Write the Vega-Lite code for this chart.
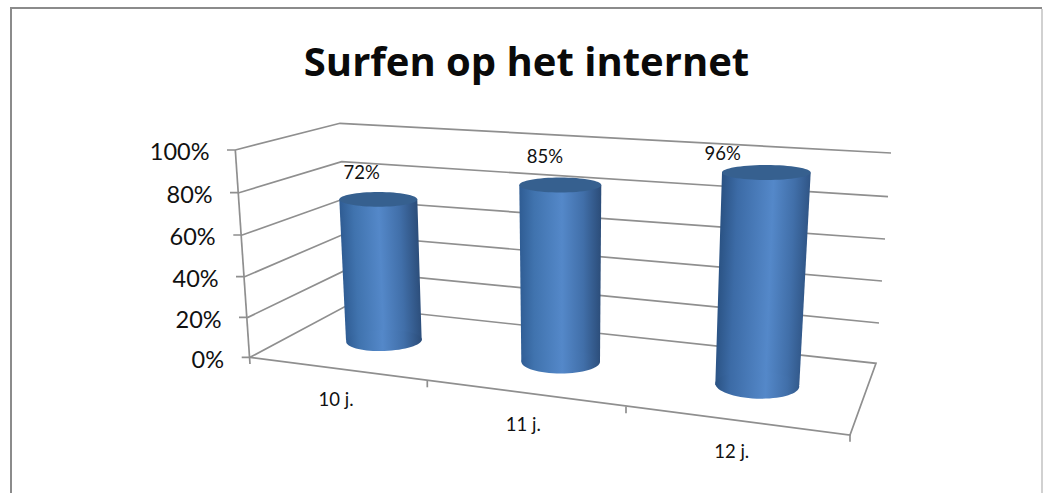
{
  "$schema": "https://vega.github.io/schema/vega-lite/v6.json",
  "width": 1043,
  "height": 493,
  "autosize": {"type": "none"},
  "padding": 0,
  "background": "white",
  "view": {"stroke": null},
  "title": {
    "text": "Surfen op het internet",
    "font": "Open Sans",
    "fontSize": 40,
    "fontWeight": "bold",
    "color": "#0a0a0a",
    "anchor": "middle",
    "dx": 5,
    "offset": -84
  },
  "datasets": {
    "outline": [
      {"edge": "frame", "step": 1, "across": 11, "rise": 493},
      {"edge": "frame", "step": 2, "across": 11, "rise": 8},
      {"edge": "frame", "step": 3, "across": 1042, "rise": 8}
    ],
    "rightEdge": [
      {"edge": "right", "step": 1, "across": 1042, "rise": 9},
      {"edge": "right", "step": 2, "across": 1042, "rise": 493}
    ],
    "chartbox": [
      {"edge": "100%", "step": 1, "across": 227, "rise": 150},
      {"edge": "100%", "step": 2, "across": 235.3, "rise": 150},
      {"edge": "100%", "step": 3, "across": 340, "rise": 123.3},
      {"edge": "100%", "step": 4, "across": 891, "rise": 153},
      {"edge": "80%", "step": 1, "across": 230, "rise": 192.7},
      {"edge": "80%", "step": 2, "across": 239, "rise": 192.7},
      {"edge": "80%", "step": 3, "across": 341.7, "rise": 161.7},
      {"edge": "80%", "step": 4, "across": 888, "rise": 196.7},
      {"edge": "60%", "step": 1, "across": 233.3, "rise": 235},
      {"edge": "60%", "step": 2, "across": 242.3, "rise": 235},
      {"edge": "60%", "step": 3, "across": 342, "rise": 199.5},
      {"edge": "60%", "step": 4, "across": 885, "rise": 239},
      {"edge": "40%", "step": 1, "across": 236, "rise": 276.7},
      {"edge": "40%", "step": 2, "across": 244.7, "rise": 276.7},
      {"edge": "40%", "step": 3, "across": 343, "rise": 234.5},
      {"edge": "40%", "step": 4, "across": 882, "rise": 281},
      {"edge": "20%", "step": 1, "across": 239, "rise": 317.3},
      {"edge": "20%", "step": 2, "across": 248, "rise": 317.3},
      {"edge": "20%", "step": 3, "across": 345, "rise": 270.4},
      {"edge": "20%", "step": 4, "across": 879, "rise": 323},
      {"edge": "floor", "step": 1, "across": 241.7, "rise": 357.3},
      {"edge": "floor", "step": 2, "across": 250, "rise": 357.3},
      {"edge": "floor", "step": 3, "across": 346, "rise": 306},
      {"edge": "floor", "step": 4, "across": 876, "rise": 363.3},
      {"edge": "floor", "step": 5, "across": 850, "rise": 435},
      {"edge": "floor", "step": 6, "across": 250, "rise": 357.3},
      {"edge": "axis", "step": 1, "across": 235.3, "rise": 150},
      {"edge": "axis", "step": 2, "across": 250, "rise": 364},
      {"edge": "tick1", "step": 1, "across": 427.3, "rise": 380.5},
      {"edge": "tick1", "step": 2, "across": 427.3, "rise": 387.3},
      {"edge": "tick2", "step": 1, "across": 626, "rise": 406.5},
      {"edge": "tick2", "step": 2, "across": 626, "rise": 413.3},
      {"edge": "tick3", "step": 1, "across": 850, "rise": 435},
      {"edge": "tick3", "step": 2, "across": 850, "rise": 441.7}
    ],
    "percentLabels": [
      {"share": 1, "across": 209.5, "rise": 152.5},
      {"share": 0.8, "across": 212.7, "rise": 195.5},
      {"share": 0.6, "across": 215.7, "rise": 238.2},
      {"share": 0.4, "across": 218.7, "rise": 279.8},
      {"share": 0.2, "across": 221.7, "rise": 320.8},
      {"share": 0, "across": 224, "rise": 360.8}
    ],
    "ageLabels": [
      {"age": "10 j.", "across": 336, "rise": 400},
      {"age": "11 j.", "across": 523.3, "rise": 425.3},
      {"age": "12 j.", "across": 731.7, "rise": 451.7}
    ],
    "cylinders": [
      {"age": "10 j.", "end": "top", "value": 0.72, "left": 339.3, "right": 417.3, "centre": 378.3, "labelAt": 361.7},
      {"age": "10 j.", "end": "base", "value": 0, "left": 346, "right": 421.7, "centre": 384},
      {"age": "11 j.", "end": "top", "value": 0.85, "left": 519.3, "right": 601.3, "centre": 560.3, "labelAt": 545},
      {"age": "11 j.", "end": "base", "value": 0, "left": 521.3, "right": 600, "centre": 560.7},
      {"age": "12 j.", "end": "top", "value": 0.96, "left": 722, "right": 810.7, "centre": 766.3, "labelAt": 722.7},
      {"age": "12 j.", "end": "base", "value": 0, "left": 715.3, "right": 799.3, "centre": 757.3}
    ]
  },
  "layer": [
    {
      "data": {"name": "outline"},
      "mark": {"type": "line", "color": "#8b8b8b", "strokeWidth": 2},
      "encoding": {
        "x": {"field": "across", "type": "quantitative", "scale": {"domain": [0, 1043], "nice": false, "zero": false}, "axis": null},
        "y": {"field": "rise", "type": "quantitative", "scale": {"domain": [493, 0], "nice": false, "zero": false}, "axis": null},
        "detail": {"field": "edge"},
        "order": {"field": "step"}
      }
    },
    {
      "data": {"name": "rightEdge"},
      "mark": {"type": "line", "color": "#c2c2c2", "strokeWidth": 1.5},
      "encoding": {
        "x": {"field": "across", "type": "quantitative", "scale": {"domain": [0, 1043], "nice": false, "zero": false}, "axis": null},
        "y": {"field": "rise", "type": "quantitative", "scale": {"domain": [493, 0], "nice": false, "zero": false}, "axis": null},
        "order": {"field": "step"}
      }
    },
    {
      "data": {"name": "chartbox"},
      "mark": {"type": "line", "color": "#8f8f8f", "strokeWidth": 1.7},
      "encoding": {
        "x": {"field": "across", "type": "quantitative", "scale": {"domain": [0, 1043], "nice": false, "zero": false}, "axis": null},
        "y": {"field": "rise", "type": "quantitative", "scale": {"domain": [493, 0], "nice": false, "zero": false}, "axis": null},
        "detail": {"field": "edge"},
        "order": {"field": "step"}
      }
    },
    {
      "data": {"name": "percentLabels"},
      "mark": {"type": "text", "font": "Lato", "fontSize": 23.5, "align": "right", "baseline": "middle", "color": "#111111"},
      "encoding": {
        "x": {"field": "across", "type": "quantitative", "scale": {"domain": [0, 1043], "nice": false, "zero": false}, "axis": null},
        "y": {"field": "rise", "type": "quantitative", "scale": {"domain": [493, 0], "nice": false, "zero": false}, "axis": null},
        "text": {"field": "share", "type": "quantitative", "format": ".0%"}
      }
    },
    {
      "data": {"name": "ageLabels"},
      "mark": {"type": "text", "font": "Lato", "fontSize": 18.5, "align": "center", "baseline": "middle", "color": "#111111"},
      "encoding": {
        "x": {"field": "across", "type": "quantitative", "scale": {"domain": [0, 1043], "nice": false, "zero": false}, "axis": null},
        "y": {"field": "rise", "type": "quantitative", "scale": {"domain": [493, 0], "nice": false, "zero": false}, "axis": null},
        "text": {"field": "age", "type": "nominal"}
      }
    },
    {
      "data": {"name": "cylinders"},
      "transform": [{"filter": "datum.age === '10 j.'"}],
      "encoding": {
        "y": {"field": "value", "type": "quantitative", "scale": {"domain": [-0.7781, 1.7372], "nice": false, "zero": false}, "axis": null}
      },
      "layer": [
        {
          "mark": {"type": "area", "orient": "horizontal", "fill": {"gradient": "linear", "x1": 0, "y1": 0, "x2": 1, "y2": -0.069, "stops": [{"offset": 0, "color": "#2f5c93"}, {"offset": 0.17, "color": "#4073ae"}, {"offset": 0.47, "color": "#5488c9"}, {"offset": 0.72, "color": "#416fa9"}, {"offset": 0.947, "color": "#2b4c78"}]}},
          "encoding": {
            "x": {"field": "left", "type": "quantitative", "stack": null, "scale": {"domain": [0, 1043], "nice": false, "zero": false}, "axis": null},
            "x2": {"field": "right"}
          }
        },
        {
          "transform": [{"filter": "datum.end === 'base'"}],
          "mark": {"type": "point", "filled": true, "opacity": 1, "size": 5730, "angle": -1.8, "shape": "M-1,0A1,0.277,0,1,0,1,0A1,0.277,0,1,0,-1,0Z", "fill": {"gradient": "linear", "x1": 0, "y1": 0, "x2": 1, "y2": 0, "stops": [{"offset": 0, "color": "#2f5c93"}, {"offset": 0.17, "color": "#4073ae"}, {"offset": 0.48, "color": "#5488c9"}, {"offset": 0.76, "color": "#416fa9"}, {"offset": 1, "color": "#2b4c78"}]}},
          "encoding": {
            "x": {"field": "centre", "type": "quantitative", "scale": {"domain": [0, 1043], "nice": false, "zero": false}, "axis": null}
          }
        },
        {
          "transform": [{"filter": "datum.end === 'top'"}],
          "mark": {"type": "point", "filled": true, "opacity": 1, "size": 6084, "shape": "M-1,0A1,0.192,0,1,0,1,0A1,0.192,0,1,0,-1,0Z", "fill": "#36608f"},
          "encoding": {
            "x": {"field": "centre", "type": "quantitative", "scale": {"domain": [0, 1043], "nice": false, "zero": false}, "axis": null}
          }
        },
        {
          "transform": [{"filter": "datum.end === 'top'"}],
          "mark": {"type": "text", "font": "Lato", "fontSize": 18.5, "align": "center", "baseline": "middle", "dy": -26, "color": "#111111"},
          "encoding": {
            "x": {"field": "labelAt", "type": "quantitative", "scale": {"domain": [0, 1043], "nice": false, "zero": false}, "axis": null},
            "text": {"field": "value", "type": "quantitative", "format": ".0%"}
          }
        }
      ]
    },
    {
      "data": {"name": "cylinders"},
      "transform": [{"filter": "datum.age === '11 j.'"}],
      "encoding": {
        "y": {"field": "value", "type": "quantitative", "scale": {"domain": [-0.6315, 1.7398], "nice": false, "zero": false}, "axis": null}
      },
      "layer": [
        {
          "mark": {"type": "area", "orient": "horizontal", "fill": {"gradient": "linear", "x1": 0, "y1": 0, "x2": 1, "y2": 0, "stops": [{"offset": 0, "color": "#2f5c93"}, {"offset": 0.18, "color": "#4073ae"}, {"offset": 0.52, "color": "#5488c9"}, {"offset": 0.78, "color": "#416fa9"}, {"offset": 1, "color": "#2b4c78"}]}},
          "encoding": {
            "x": {"field": "left", "type": "quantitative", "stack": null, "scale": {"domain": [0, 1043], "nice": false, "zero": false}, "axis": null},
            "x2": {"field": "right"}
          }
        },
        {
          "transform": [{"filter": "datum.end === 'base'"}],
          "mark": {"type": "point", "filled": true, "opacity": 1, "size": 6178, "shape": "M-1,0A1,0.298,0,1,0,1,0A1,0.298,0,1,0,-1,0Z", "fill": {"gradient": "linear", "x1": 0, "y1": 0, "x2": 1, "y2": 0, "stops": [{"offset": 0, "color": "#305d95"}, {"offset": 0.163, "color": "#4073ae"}, {"offset": 0.519, "color": "#5488c9"}, {"offset": 0.791, "color": "#416fa9"}, {"offset": 1, "color": "#2d4f7c"}]}},
          "encoding": {
            "x": {"field": "centre", "type": "quantitative", "scale": {"domain": [0, 1043], "nice": false, "zero": false}, "axis": null}
          }
        },
        {
          "transform": [{"filter": "datum.end === 'top'"}],
          "mark": {"type": "point", "filled": true, "opacity": 1, "size": 6724, "shape": "M-1,0A1,0.183,0,1,0,1,0A1,0.183,0,1,0,-1,0Z", "fill": "#36608f"},
          "encoding": {
            "x": {"field": "centre", "type": "quantitative", "scale": {"domain": [0, 1043], "nice": false, "zero": false}, "axis": null}
          }
        },
        {
          "transform": [{"filter": "datum.end === 'top'"}],
          "mark": {"type": "text", "font": "Lato", "fontSize": 18.5, "align": "center", "baseline": "middle", "dy": -28.3, "color": "#111111"},
          "encoding": {
            "x": {"field": "labelAt", "type": "quantitative", "scale": {"domain": [0, 1043], "nice": false, "zero": false}, "axis": null},
            "text": {"field": "value", "type": "quantitative", "format": ".0%"}
          }
        }
      ]
    },
    {
      "data": {"name": "cylinders"},
      "transform": [{"filter": "datum.age === '12 j.'"}],
      "encoding": {
        "y": {"field": "value", "type": "quantitative", "scale": {"domain": [-0.4878, 1.7389], "nice": false, "zero": false}, "axis": null}
      },
      "layer": [
        {
          "mark": {"type": "area", "orient": "horizontal", "fill": {"gradient": "linear", "x1": 0, "y1": 0, "x2": 1, "y2": 0.089, "stops": [{"offset": 0.07, "color": "#2a5283"}, {"offset": 0.24, "color": "#3c6ba6"}, {"offset": 0.61, "color": "#5488c9"}, {"offset": 0.83, "color": "#416fa9"}, {"offset": 1, "color": "#2f5484"}]}},
          "encoding": {
            "x": {"field": "left", "type": "quantitative", "stack": null, "scale": {"domain": [0, 1043], "nice": false, "zero": false}, "axis": null},
            "x2": {"field": "right"}
          }
        },
        {
          "transform": [{"filter": "datum.end === 'base'"}],
          "mark": {"type": "point", "filled": true, "opacity": 1, "size": 7056, "angle": 2.2, "shape": "M-1,0A1,0.326,0,1,0,1,0A1,0.326,0,1,0,-1,0Z", "fill": {"gradient": "linear", "x1": 0, "y1": 0, "x2": 1, "y2": 0, "stops": [{"offset": 0, "color": "#2a5283"}, {"offset": 0.176, "color": "#3c6ba6"}, {"offset": 0.602, "color": "#5488c9"}, {"offset": 0.857, "color": "#416fa9"}, {"offset": 1, "color": "#325a8c"}]}},
          "encoding": {
            "x": {"field": "centre", "type": "quantitative", "scale": {"domain": [0, 1043], "nice": false, "zero": false}, "axis": null}
          }
        },
        {
          "transform": [{"filter": "datum.end === 'top'"}],
          "mark": {"type": "point", "filled": true, "opacity": 1, "size": 7868, "shape": "M-1,0A1,0.169,0,1,0,1,0A1,0.169,0,1,0,-1,0Z", "fill": "#36608f"},
          "encoding": {
            "x": {"field": "centre", "type": "quantitative", "scale": {"domain": [0, 1043], "nice": false, "zero": false}, "axis": null}
          }
        },
        {
          "transform": [{"filter": "datum.end === 'top'"}],
          "mark": {"type": "text", "font": "Lato", "fontSize": 18.5, "align": "center", "baseline": "middle", "dy": -18.2, "color": "#111111"},
          "encoding": {
            "x": {"field": "labelAt", "type": "quantitative", "scale": {"domain": [0, 1043], "nice": false, "zero": false}, "axis": null},
            "text": {"field": "value", "type": "quantitative", "format": ".0%"}
          }
        }
      ]
    }
  ],
  "resolve": {"scale": {"y": "independent"}}
}
